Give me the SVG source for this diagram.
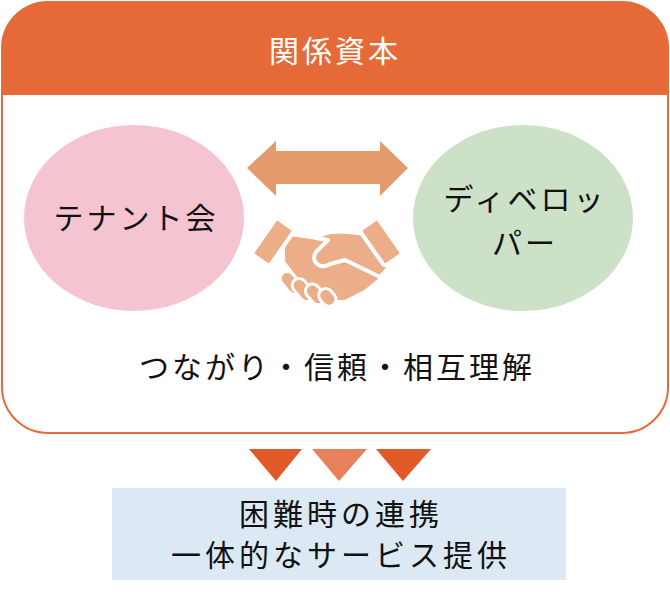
<svg xmlns="http://www.w3.org/2000/svg" width="670" height="595" viewBox="0 0 670 595">
<style>
text{font-family:"Noto Sans CJK JP","Noto Sans",sans-serif;text-anchor:middle;fill:#111;font-size:30px;letter-spacing:3px}
.hs{fill:#ecae88;stroke:#fff;stroke-width:4;stroke-linejoin:round}
</style>
<defs><clipPath id="top"><rect x="0" y="0" width="670" height="95"/></clipPath></defs>
<g id="frame">
<rect x="2" y="2" width="666" height="431" rx="46" fill="#fff" stroke="#e86a3a" stroke-width="2"/>
<rect x="2" y="2" width="666" height="431" rx="46" fill="#e56a38" clip-path="url(#top)"/>
<text x="335" y="62" style="fill:#fff">関係資本</text>
</g>
<g id="tenant"><ellipse cx="134" cy="218" rx="110" ry="93" fill="#f4c4d1"/><text x="136" y="229">テナント会</text></g>
<g id="developer"><ellipse cx="523" cy="218" rx="110" ry="93" fill="#cde0c8"/><text x="525" y="210">ディベロッ</text><text x="525" y="254">パー</text></g>
<g id="connectors">
<polygon points="247,168 276,141 276,151 380,151 380,141 408,168 380,196 380,184 276,184 276,196" fill="#e49b6b"/>
<polygon points="249,449 302,449 276,481" fill="#e05a28"/>
<polygon points="312,449 367,449 339,481" fill="#e8805a"/>
<polygon points="376,449 431,449 403,481" fill="#e05a28"/>
</g>
<g id="handshake">
<path class="hs" d="M283,233 L318,238 L355,238 L382,278 L365,292 L345,302 L325,302 L300,284 L283,262 Z"/>
<path class="hs" d="M316,238 C330,228 350,232 370,235 L390,266 L380,277 L345,260 L330,264 C320,270 310,262 316,252 L328,240 Z"/>
<rect class="hs" x="262" y="220" width="22" height="44" rx="3" transform="rotate(35 273 242)"/>
<rect class="hs" x="370" y="220" width="22" height="44" rx="3" transform="rotate(-35 381 242)"/>
<g fill="#ecae88" stroke="#fff" stroke-width="3"><rect x="284" y="270" width="14" height="26" rx="7" transform="rotate(-40 291 283)"/><rect x="296" y="277" width="14" height="26" rx="7" transform="rotate(-40 303 290)"/><rect x="308" y="283" width="14" height="23" rx="7" transform="rotate(-40 315 294)"/><rect x="320" y="288" width="14" height="19" rx="7" transform="rotate(-40 327 297)"/></g>
</g>
<g id="caption"><text x="337" y="378">つながり・信頼・相互理解</text></g>
<g id="result"><rect x="112" y="488" width="454" height="92" fill="#dce9f5"/><text x="341" y="525" style="letter-spacing:4px">困難時の連携</text><text x="341" y="566" style="letter-spacing:4px">一体的なサービス提供</text></g>
</svg>
